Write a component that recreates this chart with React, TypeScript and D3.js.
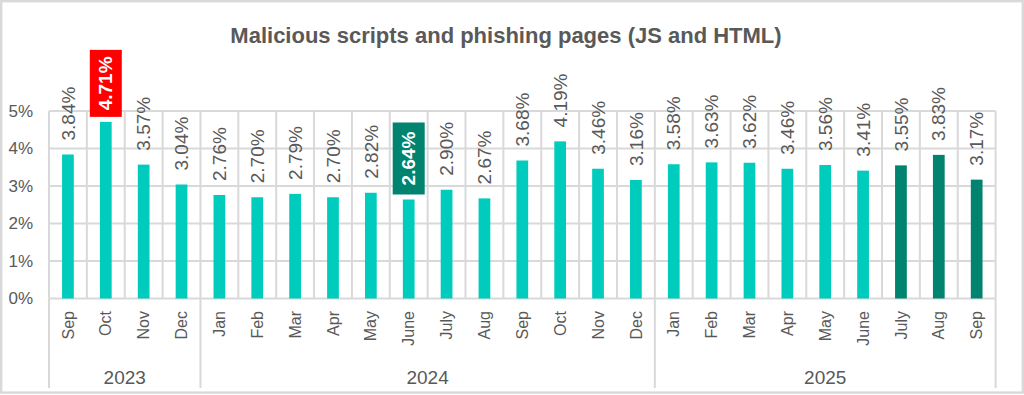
import { useEffect } from 'react';
import * as d3 from 'd3';

const months = [
  'Sep', 'Oct', 'Nov', 'Dec',
  'Jan', 'Feb', 'Mar', 'Apr', 'May', 'June', 'July', 'Aug', 'Sep', 'Oct', 'Nov', 'Dec',
  'Jan', 'Feb', 'Mar', 'Apr', 'May', 'June', 'July', 'Aug', 'Sep',
];
const values = [
  3.84, 4.71, 3.57, 3.04,
  2.76, 2.70, 2.79, 2.70, 2.82, 2.64, 2.90, 2.67, 3.68, 4.19, 3.46, 3.16,
  3.58, 3.63, 3.62, 3.46, 3.56, 3.41, 3.55, 3.83, 3.17,
];
const years = ['2023', '2024', '2025'];
const yearCounts = [4, 12, 9];
const yTicks = [0, 1, 2, 3, 4, 5];
// index of last highlighted (dark) bars, max and min callouts
const darkFrom = 22;
const maxIdx = 1;
const minIdx = 9;

const W = 1024;
const H = 395;
const margin = { top: 111, right: 28, bottom: 96, left: 49 };
const grey = '#595959';
const gridColor = '#d9d9d9';
const font = '"Liberation Sans", Arial, sans-serif';

function App() {
  useEffect(() => {
    document.body.style.margin = '0';
  }, []);

  const idx = months.map((_, i) => i);
  const x = d3.scaleBand<number>()
    .domain(idx)
    .range([margin.left, W - margin.right - 0.4])
    .paddingInner(0)
    .paddingOuter(0);
  const y = d3.scaleLinear()
    .domain([0, 5])
    .range([H - margin.bottom - 0.5, margin.top]);

  const bw = x.bandwidth();
  const barW = bw * 0.31;
  const y0 = y(0);

  // year group boundaries
  const bounds: number[] = [0];
  yearCounts.forEach((c, i) => bounds.push(bounds[i] + c));
  const edge = (i: number) => (i < months.length ? x(i)! : x(months.length - 1)! + bw);

  return (
    <svg width={W} height={H} style={{ position: 'absolute', left: 0, top: 0 }} fontFamily={font}>
      <rect x={1.2} y={1.2} width={W - 2.4} height={H - 3.6} fill="#fff" stroke={gridColor} strokeWidth={2.4} />

      <text x={506} y={43} textAnchor="middle" fontSize={22} fontWeight="bold" fill={grey}>
        Malicious scripts and phishing pages (JS and HTML)
      </text>

      {/* horizontal grid */}
      {yTicks.map(t => (
        <line key={'h' + t} x1={edge(0)} x2={edge(months.length)} y1={y(t)} y2={y(t)} stroke={gridColor} strokeWidth={2} />
      ))}
      {/* vertical grid */}
      {d3.range(months.length + 1).map(i => (
        <line key={'v' + i} x1={edge(i)} x2={edge(i)} y1={y(5)} y2={y0} stroke={gridColor} strokeWidth={2} />
      ))}
      {/* year separators */}
      {bounds.map(b => (
        <line key={'b' + b} x1={edge(b)} x2={edge(b)} y1={y0} y2={388} stroke={gridColor} strokeWidth={2} />
      ))}

      {/* y axis labels */}
      {yTicks.map(t => (
        <text key={'yt' + t} x={33} y={y(t)} dy="0.35em" textAnchor="end" fontSize={17} fill={grey}>
          {t}%
        </text>
      ))}

      {/* bars */}
      {values.map((v, i) => (
        <rect
          key={'bar' + i}
          x={x(i)! + (bw - barW) / 2}
          y={y(v)}
          width={barW}
          height={y0 - y(v)}
          fill={i >= darkFrom ? '#00836f' : '#00ccbe'}
        />
      ))}

      {/* value labels */}
      {values.map((v, i) => {
        const cx = x(i)! + bw / 2;
        const label = v.toFixed(2) + '%';
        if (i === maxIdx || i === minIdx) {
          const bh = i === maxIdx ? 67 : 72;
          const by = y(v) - 5 - bh;
          return (
            <g key={'lab' + i}>
              <rect x={cx - 16} y={by} width={32} height={bh} fill={i === maxIdx ? '#ff0000' : '#00836f'} />
              <text
                transform={`translate(${cx},${by + bh / 2}) rotate(-90)`}
                textAnchor="middle"
                dy="0.35em"
                fontSize={19}
                fontWeight="bold"
                fill="#fff"
              >
                {label}
              </text>
            </g>
          );
        }
        return (
          <text
            key={'lab' + i}
            transform={`translate(${cx},${y(v) - 14}) rotate(-90)`}
            textAnchor="start"
            dy="0.35em"
            fontSize={19}
            fill={grey}
          >
            {label}
          </text>
        );
      })}

      {/* month labels */}
      {months.map((m, i) => (
        <text
          key={'m' + i}
          transform={`translate(${x(i)! + bw / 2},${311}) rotate(-90)`}
          textAnchor="end"
          dy="0.35em"
          fontSize={16}
          fill={grey}
        >
          {m}
        </text>
      ))}

      {/* year labels */}
      {years.map((yr, i) => (
        <text
          key={'y' + yr}
          x={(edge(bounds[i]) + edge(bounds[i + 1])) / 2}
          y={377}
          dy="0.35em"
          textAnchor="middle"
          fontSize={19}
          fill={grey}
        >
          {yr}
        </text>
      ))}
    </svg>
  );
}

export default App;
